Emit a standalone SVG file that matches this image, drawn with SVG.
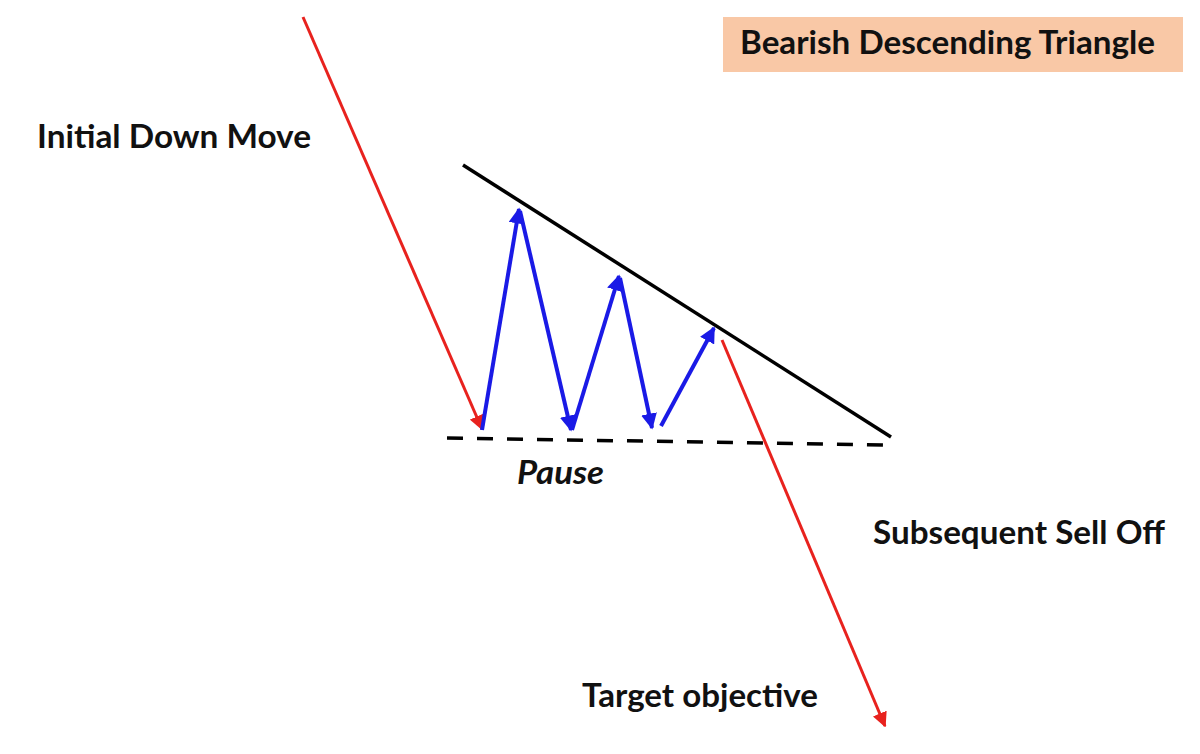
<svg xmlns="http://www.w3.org/2000/svg" width="1200" height="754" viewBox="0 0 1200 754">
<style>
.t{font-family:Lato,"Open Sans","Liberation Sans",sans-serif;font-weight:bold;font-size:32px;fill:#111}
.red{stroke:#e8221e;stroke-width:3;fill:none}
.blue{stroke:#1a1ae6;stroke-width:4;fill:none}
</style>
<defs>
<marker id="ar" viewBox="0 0 10 10" refX="9" refY="5" markerWidth="5" markerHeight="5" orient="auto" markerUnits="strokeWidth"><path d="M0,0 L10,5 L0,10 z" fill="#e8221e"/></marker>
<marker id="ab" viewBox="0 0 10 10" refX="9" refY="5" markerWidth="4" markerHeight="4" orient="auto" markerUnits="strokeWidth"><path d="M0,0 L10,5 L0,10 z" fill="#1a1ae6"/></marker>
</defs>
<rect width="1200" height="754" fill="#fff"/>
<g id="title"><rect x="723" y="17" width="460" height="55" fill="#f9c8a6"/><text class="t" x="740" y="54" textLength="415" lengthAdjust="spacingAndGlyphs">Bearish Descending Triangle</text></g>
<g id="label-initial"><text class="t" x="37" y="148" textLength="274" lengthAdjust="spacingAndGlyphs">Initial Down Move</text></g>
<g id="label-pause"><text class="t" x="517" y="484" font-style="italic" textLength="87" lengthAdjust="spacingAndGlyphs">Pause</text></g>
<g id="label-selloff"><text class="t" x="873" y="544" textLength="292" lengthAdjust="spacingAndGlyphs">Subsequent Sell Off</text></g>
<g id="label-target"><text class="t" x="582" y="707" textLength="236" lengthAdjust="spacingAndGlyphs">Target objective</text></g>
<g id="lines">
<line x1="463" y1="165" x2="891" y2="437" stroke="#000" stroke-width="3.5"/>
<line x1="447" y1="438" x2="888" y2="445" stroke="#000" stroke-width="3.5" stroke-dasharray="16,14"/>
</g>
<g id="connectors">
<line class="red" x1="303" y1="17" x2="482" y2="429" marker-end="url(#ar)"/>
<line class="red" x1="722" y1="340" x2="885" y2="726" marker-end="url(#ar)"/>
<line class="blue" x1="482" y1="430" x2="519" y2="209" marker-end="url(#ab)"/>
<line class="blue" x1="520" y1="211" x2="571" y2="430" marker-end="url(#ab)"/>
<line class="blue" x1="572" y1="430" x2="619" y2="276" marker-end="url(#ab)"/>
<line class="blue" x1="620" y1="278" x2="652" y2="428" marker-end="url(#ab)"/>
<line class="blue" x1="661" y1="426" x2="714" y2="328" marker-end="url(#ab)"/>
</g>
</svg>
